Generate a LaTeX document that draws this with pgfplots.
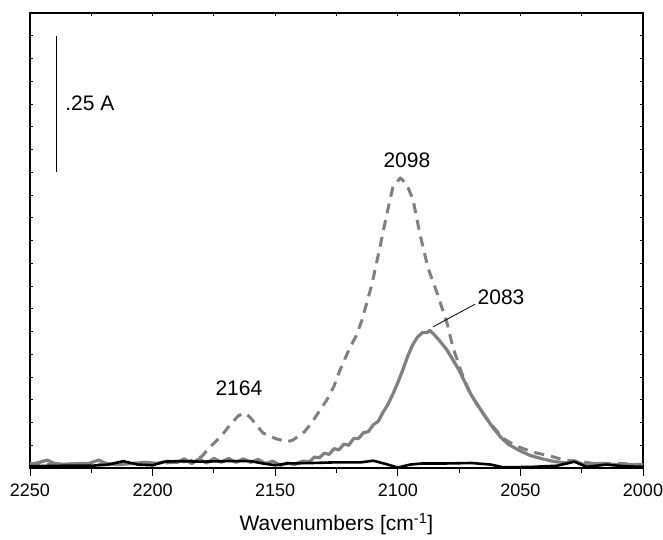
\documentclass[border=0pt]{standalone}
\usepackage{pgfplots}
\pgfplotsset{compat=1.18}
\usepackage{fontspec}
\setmainfont{Liberation Sans}
\definecolor{sgray}{RGB}{128,128,128}
\begin{document}
\fontsize{21}{25}\selectfont
\begin{tikzpicture}
\pgfplotsset{base/.style={scale only axis, width=613pt, height=455pt, x dir=reverse,
  xmin=2000, xmax=2250, ymin=0, ymax=20,
  /pgf/number format/assume math mode=true, /pgf/number format/1000 sep={},
  axis line style={line width=1.1pt, -},
  tick style={line width=0.8pt, black},
  ticklabel style={font=\fontsize{18}{21}\selectfont},
  label style={font=\fontsize{21}{25}\selectfont}}}
\begin{axis}[base,
  xtick={2000,2050,...,2250}, minor x tick num=1, xtick pos=top, xticklabels={},
  ytick={0,1,...,20}, yticklabels={}, ytick pos=both,
  tick align=inside, major tick length=3pt, minor tick length=3pt]
% dashed gray
\addplot[sgray, line width=3pt, dash pattern=on 10pt off 7pt, line join=round] coordinates {
(2250,0.2) (2240,0.15) (2230,0.2) (2220,0.15) (2210,0.2) (2200,0.2) (2190,0.25) (2185,0.3)
(2180,0.5) (2176.6,0.92) (2172,1.4) (2168.4,1.9) (2165,2.3) (2162.3,2.42) (2160,2.2)
(2157,1.8) (2155,1.54) (2150,1.3) (2145.2,1.15) (2142.7,1.23) (2138,1.6) (2135,2.0)
(2132,2.5) (2128.9,3.0) (2126,3.6) (2123.6,4.3) (2119.5,5.3) (2117,5.8) (2114.6,6.5)
(2110.5,8.1) (2107.3,9.7) (2104.4,11.2) (2102,12.35) (2099,12.75) (2096.5,12.5)
(2093.8,11.8) (2091,10.3) (2087.7,8.8) (2084,7.7) (2080,6.4) (2077.5,5.3) (2074,4.2)
(2070.6,3.3) (2066,2.5) (2061,1.8) (2057,1.3) (2052,0.98) (2045,0.7) (2038,0.53)
(2032,0.35) (2027,0.3) (2020,0.2) (2010,0.2) (2000,0.15)};
% solid gray
\addplot[sgray, line width=3.2pt, line join=round] coordinates {
(2250,0.15) (2246,0.25) (2243,0.35) (2240,0.2) (2235,0.15) (2230,0.2) (2226,0.2)
(2222,0.35) (2219,0.2) (2214,0.15) (2208,0.2) (2203,0.25) (2198,0.2) (2194,0.3)
(2190,0.25) (2187,0.4) (2184,0.2) (2181,0.4) (2178,0.22) (2175,0.42) (2172,0.25)
(2169,0.42) (2166,0.25) (2163,0.4) (2160,0.25) (2157,0.38) (2154,0.2) (2151,0.3)
(2148,0.12) (2145,0.22) (2142,0.15) (2139,0.3) (2136,0.28) (2134,0.48) (2132,0.45)
(2130,0.65) (2128,0.6) (2126,0.85) (2124,0.8) (2122,1.05) (2120,1.0) (2118,1.3)
(2116,1.3) (2114,1.55) (2112,1.6) (2110,1.9) (2108,2.05) (2106,2.45) (2104,2.8)
(2102,3.25) (2100,3.75) (2098,4.3) (2096,4.9) (2094,5.4) (2092,5.75) (2090,5.95)
(2088,5.95) (2087,6.05) (2085.5,5.9) (2083,5.6) (2080,5.2) (2077.5,4.75) (2075,4.3)
(2073,3.85) (2070,3.2) (2067,2.7) (2064,2.2) (2061,1.75) (2058,1.35) (2055,1.05)
(2051,0.8) (2046,0.55) (2041,0.4) (2036,0.28) (2031,0.22) (2028,0.3) (2024,0.15)
(2018,0.2) (2012,0.15) (2006,0.15) (2000,0.12)};
% black
\addplot[black, line width=2.6pt, line join=round] coordinates {
(2250,0.08) (2235,0.1) (2225,0.1) (2218,0.15) (2212,0.3) (2206,0.15) (2200,0.12)
(2195,0.28) (2190,0.3) (2180,0.28) (2170,0.3) (2160,0.3) (2155,0.2) (2150,0.12)
(2145,0.2) (2135,0.22) (2125,0.25) (2115,0.25) (2110,0.32) (2105,0.18) (2100,0.02)
(2095,0.15) (2090,0.2) (2080,0.2) (2070,0.22) (2062,0.15) (2057,0.03) (2045,0.05)
(2035,0.1) (2028,0.28) (2023,0.05) (2015,0.15) (2008,0.08) (2000,0.05)};
% scale bar and leader line
\addplot[black, line width=1pt] coordinates {(2239.1,13) (2239.1,19)};
\addplot[black, line width=0.8pt] coordinates {(2085.7,6.2) (2068.5,7.2)};
\node[anchor=west, inner sep=0pt] at (axis cs:2235.7,16.04) {.25 A};
\node[inner sep=0pt] at (axis cs:2096.3,13.54) {2098};
\node[inner sep=0pt] at (axis cs:2164.8,3.52) {2164};
\node[inner sep=0pt] at (axis cs:2057.9,7.52) {2083};
\end{axis}
\begin{axis}[base, axis x line*=bottom, axis y line=none,
  xtick={2000,2050,...,2250}, minor x tick num=1, tick align=outside,
  major tick length=8pt, minor tick length=5pt,
  xticklabel style={inner sep=0pt, anchor=north, yshift=-8pt},
  xlabel={Wavenumbers [cm\textsuperscript{-1}]},
  xlabel style={at={(axis description cs:0.5,-0.123)}, anchor=center}]
\addplot[draw=none] coordinates {(2100,1)};
\end{axis}
\pgfresetboundingbox
\useasboundingbox ([shift={(-30pt,-71pt)}]current axis.south west) rectangle ([shift={(20pt,13pt)}]current axis.north east);
\end{tikzpicture}
\end{document}
